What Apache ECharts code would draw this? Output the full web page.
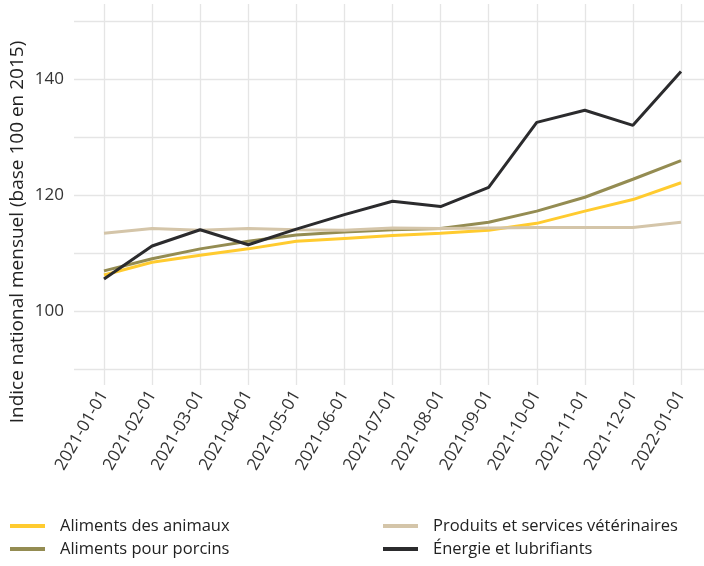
<!DOCTYPE html>
<html>
<head>
<meta charset="utf-8">
<script src="https://cdn.jsdelivr.net/npm/echarts@6/dist/echarts.min.js"></script>
<style>
html,body{margin:0;padding:0;background:#fff;}
#chart{width:704px;height:566px;}
</style>
</head>
<body>
<div id="chart"></div>
<script>
var categories = ['2021-01-01','2021-02-01','2021-03-01','2021-04-01','2021-05-01','2021-06-01','2021-07-01','2021-08-01','2021-09-01','2021-10-01','2021-11-01','2021-12-01','2022-01-01'];
var alimentsAnimaux = [106.3,108.5,109.7,110.8,112.1,112.6,113.1,113.5,114.0,115.2,117.3,119.3,122.2];
var alimentsPorcins = [107.0,109.1,110.8,112.1,113.2,113.7,114.1,114.3,115.4,117.3,119.7,122.8,126.0];
var produitsVeto = [113.5,114.3,114.0,114.3,114.1,114.0,114.4,114.3,114.4,114.5,114.5,114.5,115.4];
var energie = [105.6,111.3,114.1,111.5,114.2,116.7,119.0,118.1,121.4,132.6,134.7,132.1,141.4];
var yTickLabels = [100,120,140];
var seriesNames = ['Aliments des animaux','Aliments pour porcins','Produits et services vétérinaires','Énergie et lubrifiants'];
var seriesColors = ['#FFCB2F','#948C52','#D4C5A9','#2B2B2D'];

var chart = echarts.init(document.getElementById('chart'), null, {renderer:'canvas'});
var font = 'Open Sans';
var gridColor = '#E5E5E5';
var allData = [alimentsAnimaux, alimentsPorcins, produitsVeto, energie];

var option = {
  animation:false,
  backgroundColor:'#fff',
  grid:[
    {left:104, right:23, top:4, bottom:181},
    {left:74, right:-10, top:21.5, bottom:196.5},
    {left:104, right:23, top:21.5, bottom:196.5}
  ],
  xAxis:[
    {gridIndex:0, type:'category', data:categories, boundaryGap:false,
     axisLine:{show:false}, axisTick:{show:false},
     splitLine:{show:true, lineStyle:{color:gridColor, width:1.3}},
     axisLabel:{rotate:60, fontFamily:font, fontSize:17, color:'#333', margin:7, interval:0}},
    {gridIndex:1, type:'value', min:0, max:1, show:false},
    {gridIndex:2, type:'category', data:categories, boundaryGap:false, show:false}
  ],
  yAxis:[
    {gridIndex:0, type:'value', min:0, max:1, show:false},
    {gridIndex:1, type:'value', min:90, max:150, interval:10,
     axisLine:{show:false}, axisTick:{show:false},
     splitLine:{show:true, lineStyle:{color:gridColor, width:1.3}},
     axisLabel:{fontFamily:font, fontSize:17, color:'#333', margin:10,
       formatter:function(v){ return yTickLabels.indexOf(v) >= 0 ? String(v) : ''; }}},
    {gridIndex:2, type:'value', min:90, max:150, show:false}
  ],
  legend:[
    {orient:'vertical', left:5, top:512, itemWidth:35, itemHeight:4, itemGap:5, icon:'rect',
     data:[seriesNames[0], seriesNames[1]],
     textStyle:{fontFamily:font, fontSize:16.5, color:'#222', lineHeight:18, padding:[0,0,0,10]}},
    {orient:'vertical', left:378, top:512, itemWidth:35, itemHeight:4, itemGap:5, icon:'rect',
     data:[seriesNames[2], seriesNames[3]],
     textStyle:{fontFamily:font, fontSize:16.5, color:'#222', lineHeight:18, padding:[0,0,0,10]}}
  ],
  graphic:[
    {type:'text', x:18, y:232, rotation:Math.PI/2,
     style:{text:'Indice national mensuel (base 100 en 2015)', x:0, y:0, align:'center', verticalAlign:'middle',
       font:'19px "Open Sans"', fill:'#222'}}
  ],
  series: seriesNames.map(function(n,i){
    return {name:n, type:'line', xAxisIndex:2, yAxisIndex:2, data:allData[i],
      showSymbol:false, symbol:'none', lineStyle:{width:3, color:seriesColors[i]},
      itemStyle:{color:seriesColors[i]}, z:2+i};
  })
};
chart.setOption(option);
</script>
</body>
</html>
